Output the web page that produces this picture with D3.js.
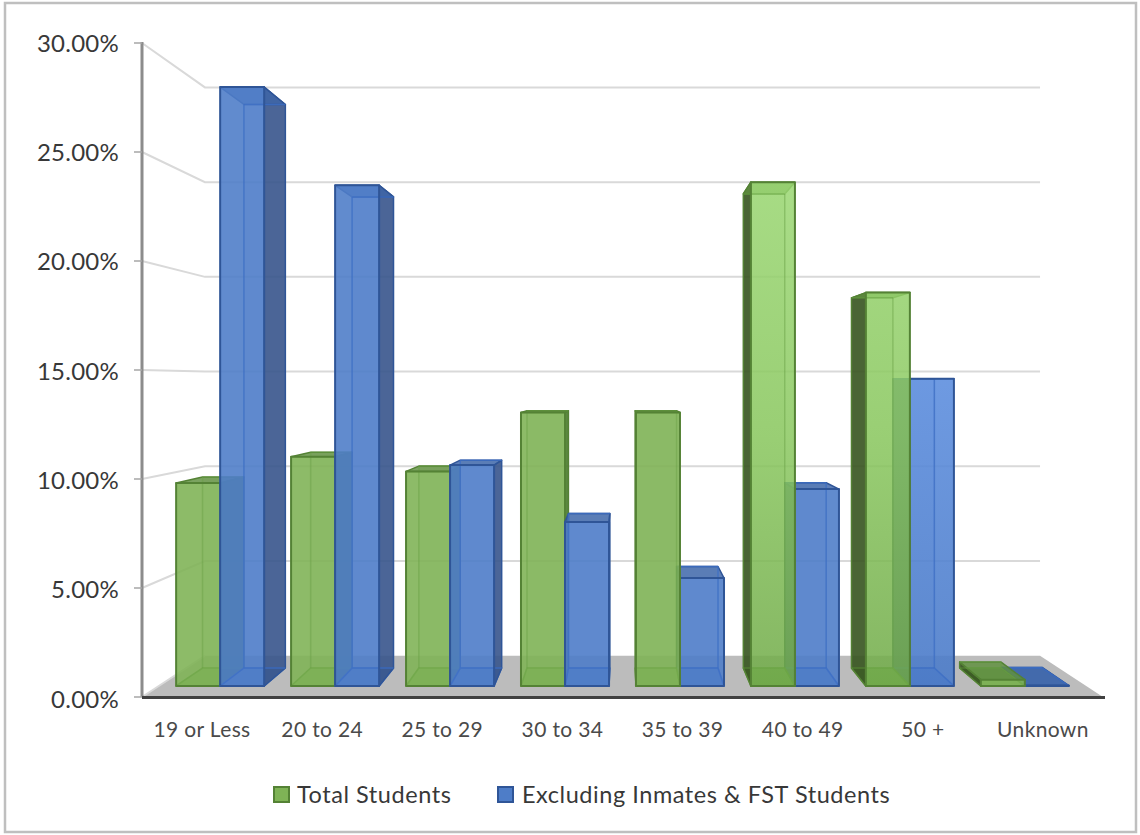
<!DOCTYPE html>
<html><head><meta charset="utf-8">
<script src="https://cdnjs.cloudflare.com/ajax/libs/d3/7.8.5/d3.min.js"></script>
<style>html,body{margin:0;background:#fff}svg{display:block}text{font-family:Lato,"Open Sans",sans-serif}</style>
</head><body><svg id="chart" width="1140" height="835"></svg>
<script>
const categories = ["19 or Less","20 to 24","25 to 29","30 to 34","35 to 39","40 to 49","50 +","Unknown"];
const totalStudents = [9.65,10.9,10.2,13.0,13.0,23.95,18.7,0.3];
const excludingInmates = [28.47,23.8,10.5,7.8,5.13,9.36,14.6,0.02];
const yTicks = [0,5,10,15,20,25,30];
const seriesNames = ["Total Students","Excluding Inmates & FST Students"];

const svg = d3.select("#chart");

// Perspective box: everything is placed in front-plane units, then pulled toward the vanishing point.
const vp = {x:622.5, y:382};
const depthBack = 0.869, barFront = 0.965, barBack = 0.908;
const yScale = d3.scaleLinear().domain([0,30]).range([697,43]);
const yLabelScale = d3.scaleLinear().domain([0,30]).range([699,43]);
const xBand = d3.scaleBand().domain(categories).range([146,1099]).paddingInner(0.234).paddingOuter(0.117);
const xInner = d3.scaleBand().domain([0,1]).range([0,xBand.bandwidth()]);
const xLabels = d3.scaleBand().domain(categories).range([142,1103]);
const project = (X,v,s) => [vp.x+(X-vp.x)*s, vp.y+(yScale(v)-vp.y)*s];
const poly = pts => pts.map(p=>p.map(n=>n.toFixed(2)).join(",")).join(" ");

// Lit fronts for the bars whose left wall faces the viewer
const defs = svg.append("defs");
const litGradient = (id,stops) => {
  const g = defs.append("linearGradient").attr("id",id).attr("gradientUnits","userSpaceOnUse")
    .attr("x1",0).attr("x2",0).attr("y1",180).attr("y2",690);
  stops.forEach(([o,c])=>g.append("stop").attr("offset",o).attr("stop-color",c));
};
litGradient("litGreen",[[0,"#9bd873"],[0.5,"#8ac85f"],[1,"#70aa48"]]);
litGradient("litBlue",[[0.35,"#5f90e0"],[1,"#4b7bc8"]]);

// Chart frame
svg.append("rect").attr("x",5).attr("y",3).attr("width",1131).attr("height",829)
  .attr("fill","#fff").attr("stroke","#bfbfbf").attr("stroke-width",2.5);

// Floor
const [xL,xR] = [142,1103];
svg.append("polygon").attr("fill","#bcbcbc")
  .attr("points",poly([[xL,0,1],[xR,0,1],[xR,0,depthBack],[xL,0,depthBack]].map(d=>project(...d))));

// Gridlines across the side wall and the back wall
const grid = svg.append("g").attr("fill","none").attr("stroke","#d9d9d9").attr("stroke-width",2);
yTicks.forEach(t=>{
  const pts = t===0 ? [project(xL,t,1),project(xL,t,depthBack)]
    : [project(xL,t,1),project(xL,t,depthBack),project(xR,t,depthBack)];
  grid.append("polyline").attr("points",poly(pts));
});

// Value axis
svg.append("line").attr("x1",142).attr("x2",142).attr("y1",yScale(30)-1).attr("y2",yScale(0))
  .attr("stroke","#8c8c8c").attr("stroke-width",3);
svg.selectAll(".tick").data(yTicks).join("line").attr("x1",134).attr("x2",142)
  .attr("y1",d=>yScale(d)).attr("y2",d=>yScale(d)).attr("stroke","#a6a6a6").attr("stroke-width",1.5);
svg.selectAll(".ylab").data(yTicks).join("text").attr("x",119).attr("y",d=>yLabelScale(d)+8.5)
  .attr("text-anchor","end").attr("font-size",24).attr("letter-spacing",0.25).attr("fill","#383838")
  .text(d=>d3.format(".2f")(d)+"%");

// Bars, farthest from the vanishing point first so the inner faces overlap correctly
const palette = [
  {front:"#7fb356",back:"#7fb356",side:"#4a7a2c",wall:"#35521f",top:"#5f8f3f",bottom:"#5f9a3c",edge:"#548235",inner:"#68a044",innerOpacity:0.45},
  {front:"#4e7dc8",back:"#4e7dc8",side:"#38548a",wall:"#38548a",top:"#3c64a8",bottom:"#3f6cc0",edge:"#2f5597",inner:"#3f6fc4",innerOpacity:0.8}
];
const bars = [];
categories.forEach((c,i)=>{
  [totalStudents,excludingInmates].forEach((vals,k)=>{
    const x0 = xBand(c)+xInner(k);
    bars.push({x0,x1:x0+xInner.bandwidth(),v:vals[i],k,cat:c});
  });
});
bars.sort((a,b)=>Math.abs(b.x0+b.x1-2*vp.x)-Math.abs(a.x0+a.x1-2*vp.x));

const litFill = b => {
  if (b.k===0 && (b.cat==="40 to 49"||b.cat==="50 +")) return "url(#litGreen)";
  if (b.k===1 && b.cat==="50 +") return "url(#litBlue)";
  return null;
};

const barLayer = svg.append("g");
bars.forEach(b=>{
  const p = palette[b.k], g = barLayer.append("g").attr("stroke-linejoin","round");
  const F = (X,v)=>project(X,v,barFront), B = (X,v)=>project(X,v,barBack);
  const face = (pts,fill,op,stroke,sw)=>g.append("polygon").attr("points",poly(pts))
    .attr("fill",fill).attr("fill-opacity",op).attr("stroke",stroke).attr("stroke-width",sw);
  const onRight = (b.x0+b.x1)/2 < vp.x;
  const sideX = onRight ? b.x1 : b.x0;
  const otherX = onRight ? b.x0 : b.x1;
  // back and floor faces
  face([B(b.x0,0),B(b.x1,0),B(b.x1,b.v),B(b.x0,b.v)],p.back,0.25,"none",0);
  face([F(b.x0,0),F(b.x1,0),B(b.x1,0),B(b.x0,0)],p.bottom,0.75,p.inner,1.5);
  // visible side wall, whichever side faces the centre of the chart
  face([F(sideX,0),B(sideX,0),B(sideX,b.v),F(sideX,b.v)],onRight?p.side:p.wall,0.88,p.edge,1.5);
  face([F(otherX,0),B(otherX,0),B(otherX,b.v),F(otherX,b.v)],p.front,0.15,"none",0);
  // top cap
  face([F(b.x0,b.v),F(b.x1,b.v),B(b.x1,b.v),B(b.x0,b.v)],p.top,0.8,p.edge,1.5);
  // front
  const lit = litFill(b);
  face([F(b.x0,0),F(b.x1,0),F(b.x1,b.v),F(b.x0,b.v)],lit||p.front,lit&&b.k===0?0.82:0.88,"none",0);
  // rear edges showing through the translucent front
  const rearX = onRight ? b.x0 : b.x1;
  const rear = g.append("g").attr("stroke",p.inner).attr("stroke-width",1.5).attr("stroke-opacity",p.innerOpacity);
  rear.append("polyline").attr("fill","none")
    .attr("points",poly([B(b.x0,b.v),B(b.x1,b.v)]));
  rear.append("line").attr("x1",B(rearX,0)[0]).attr("y1",B(rearX,0)[1]).attr("x2",B(rearX,b.v)[0]).attr("y2",B(rearX,b.v)[1]);
  rear.append("line").attr("x1",B(b.x0,0)[0]).attr("y1",B(b.x0,0)[1]).attr("x2",B(b.x1,0)[0]).attr("y2",B(b.x1,0)[1]);
  rear.append("line").attr("x1",F(rearX,0)[0]).attr("y1",F(rearX,0)[1]).attr("x2",B(rearX,0)[0]).attr("y2",B(rearX,0)[1]);
  g.append("polygon").attr("points",poly([F(b.x0,0),F(b.x1,0),F(b.x1,b.v),F(b.x0,b.v)]))
    .attr("fill","none").attr("stroke",p.edge).attr("stroke-width",2);
});

// Category axis
svg.append("line").attr("x1",142).attr("x2",1105).attr("y1",697.5).attr("y2",697.5)
  .attr("stroke","#404040").attr("stroke-width",3);
svg.selectAll(".xlab").data(categories).join("text")
  .attr("x",d=>xLabels(d)+xLabels.bandwidth()/2).attr("y",737)
  .attr("text-anchor","middle").attr("font-size",21).attr("letter-spacing",0.35).attr("fill","#4a4a4a").text(d=>d);

// Legend
const legendItems = [{x:274,tx:297,k:0},{x:498,tx:522,k:1}];
legendItems.forEach(l=>{
  svg.append("rect").attr("x",l.x).attr("y",787).attr("width",15).attr("height",15)
    .attr("fill",palette[l.k].front).attr("stroke",palette[l.k].edge).attr("stroke-width",2);
  svg.append("text").attr("x",l.tx).attr("y",803).attr("font-size",23.5).attr("letter-spacing",0.55)
    .attr("fill","#383838").text(seriesNames[l.k]);
});
</script></body></html>
